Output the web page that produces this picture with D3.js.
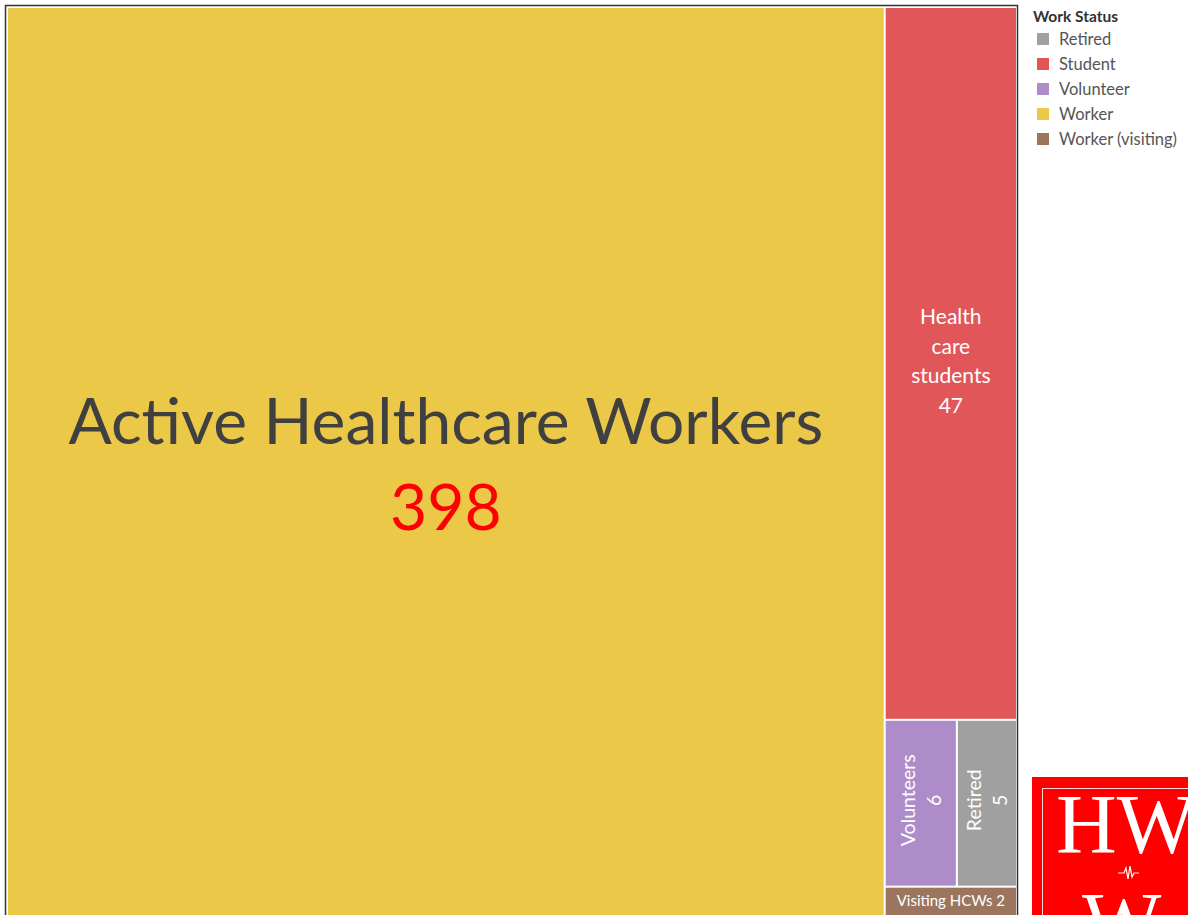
<!DOCTYPE html>
<html>
<head>
<meta charset="utf-8">
<script src="https://cdn.jsdelivr.net/npm/d3@7"></script>
<style>
  html, body { margin: 0; padding: 0; background: #fff; overflow: hidden; }
  svg { display: block; }
</style>
</head>
<body>
<script>
// ---- data ----
const categories = ["Worker", "Student", "Volunteer", "Retired", "Worker (visiting)"];
const values = [398, 47, 6, 5, 2];
const labels = [
  ["Active Healthcare Workers", "398"],
  ["Health", "care", "students", "47"],
  ["Volunteers", "6"],
  ["Retired", "5"],
  ["Visiting HCWs 2"]
];
const legendTitle = "Work Status";
const legendItems = ["Retired", "Student", "Volunteer", "Worker", "Worker (visiting)"];
const colorRange = ["#A0A0A0", "#E15759", "#AE8CC9", "#EBC847", "#9C755F"];

const W = 1188, H = 915;
const svg = d3.select("body").append("svg").attr("width", W).attr("height", H);

const color = d3.scaleOrdinal().domain(legendItems).range(colorRange);

// ---- treemap ----
const tm = { x: 8, y: 8, w: 1008, h: 908 };
const root = d3.hierarchy({ children: categories.map((c, i) => ({ name: c, value: values[i], label: labels[i] })) })
  .sum(d => d.value || 0)
  .sort((a, b) => b.value - a.value);
d3.treemap().size([tm.w, tm.h]).paddingInner(2).tile(d3.treemapSquarify)(root);

// outer frame
svg.append("rect").attr("x", 5.5).attr("y", 5.5).attr("width", 1012).attr("height", 920)
  .attr("fill", "#fff").attr("stroke", "#333").attr("stroke-width", 1.5);

const g = svg.append("g").attr("transform", `translate(${tm.x},${tm.y})`);
const cell = g.selectAll("g.cell").data(root.leaves()).join("g").attr("class", "cell");
cell.append("rect")
  .attr("x", d => d.x0).attr("y", d => d.y0)
  .attr("width", d => d.x1 - d.x0).attr("height", d => d.y1 - d.y0)
  .attr("fill", d => color(d.data.name));

const font = "Lato, 'Open Sans', sans-serif";
cell.each(function(d) {
  const sel = d3.select(this);
  const cx = (d.x0 + d.x1) / 2, cy = (d.y0 + d.y1) / 2;
  const name = d.data.name;
  const lab = d.data.label;
  if (name === "Worker") {
    const t1 = sel.append("text").attr("x", cx).attr("y", cy - 18)
      .attr("text-anchor", "middle").attr("font-family", font).attr("font-size", 64)
      .attr("fill", "#404040").text(lab[0]);
    const len = t1.node().getComputedTextLength();
    const fs = 64 * 755 / len;
    t1.attr("font-size", fs);
    sel.append("text").attr("x", cx).attr("y", cy + 68)
      .attr("text-anchor", "middle").attr("font-family", font).attr("font-size", fs)
      .attr("fill", "#FF0000").text(lab[1]);
  } else if (name === "Student") {
    const lh = 29.5;
    lab.forEach((l, i) => {
      sel.append("text").attr("x", cx).attr("y", cy - 39 + i * lh)
        .attr("text-anchor", "middle").attr("font-family", font).attr("font-size", 21)
        .attr("fill", "#fff").text(l);
    });
  } else if (name === "Volunteer" || name === "Retired") {
    const tg = sel.append("g").attr("transform", `translate(${cx},${cy - 3}) rotate(-90)`);
    lab.forEach((l, i) => {
      tg.append("text").attr("x", 0).attr("y", -6 + i * 26)
        .attr("text-anchor", "middle").attr("font-family", font).attr("font-size", 19.5)
        .attr("fill", "#fff").text(l);
    });
  } else {
    sel.append("text").attr("x", cx).attr("y", cy + 4)
      .attr("text-anchor", "middle").attr("font-family", font).attr("font-size", 15)
      .attr("fill", "#fff").text(lab[0]);
  }
});

// ---- legend ----
const lg = svg.append("g").attr("transform", "translate(1033,0)");
lg.append("text").attr("x", 0).attr("y", 22).attr("font-family", font)
  .attr("font-size", 15.5).attr("font-weight", "bold").attr("fill", "#333").text(legendTitle);
const li = lg.selectAll("g.li").data(legendItems).join("g").attr("class", "li")
  .attr("transform", (d, i) => `translate(0,${39 + i * 25})`);
li.append("rect").attr("x", 4).attr("y", -6).attr("width", 12).attr("height", 12).attr("fill", d => color(d));
li.append("text").attr("x", 26).attr("y", 5.5).attr("font-family", font).attr("font-size", 16.5)
  .attr("fill", "#555").text(d => d);

// ---- logo ----
const logo = svg.append("g");
logo.append("rect").attr("x", 1032).attr("y", 777).attr("width", 200).attr("height", 200).attr("fill", "#FF0000");
logo.append("rect").attr("x", 1042.5).attr("y", 788.5).attr("width", 200).attr("height", 200)
  .attr("fill", "none").attr("stroke", "#fff").attr("stroke-opacity", 0.85).attr("stroke-width", 1);
logo.append("text").attr("x", 1056).attr("y", 853).attr("font-family", "'Liberation Serif', 'DejaVu Serif', serif")
  .attr("font-size", 84).attr("fill", "#fff").text("HW");
logo.append("path").attr("d", "M1118,873 L1124,873 L1126,868 L1128,879 L1130,866 L1132,877 L1134,873 L1139,873")
  .attr("fill", "none").attr("stroke", "#fff").attr("stroke-width", 1.2);
logo.append("text").attr("x", 1082).attr("y", 951).attr("font-family", "'Liberation Serif', 'DejaVu Serif', serif")
  .attr("font-size", 84).attr("fill", "#fff").text("W");
</script>
</body>
</html>
